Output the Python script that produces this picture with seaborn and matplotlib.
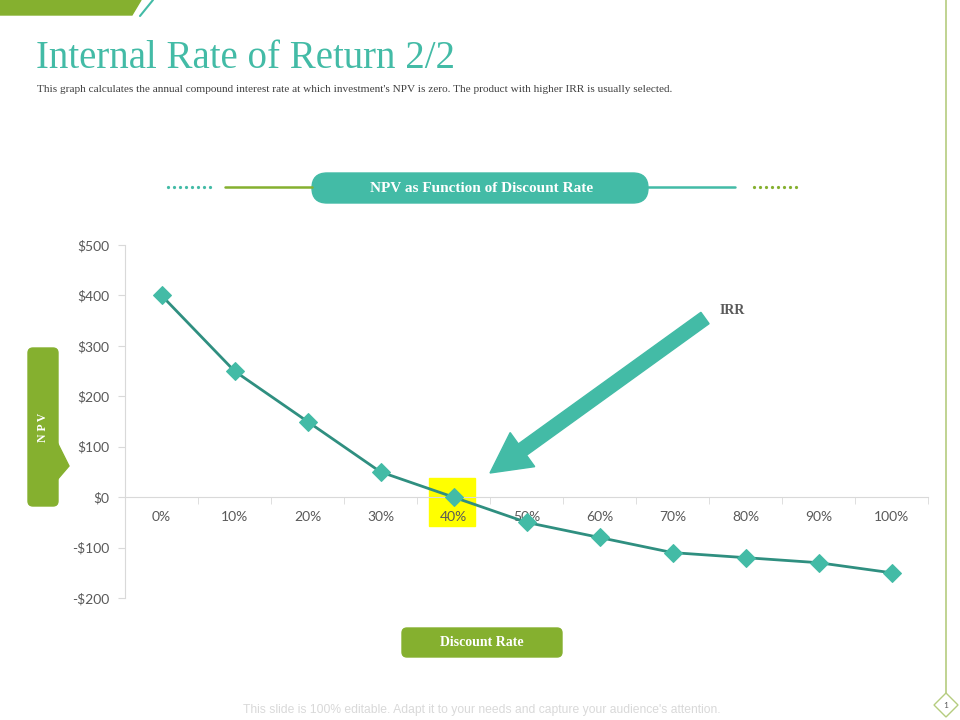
import matplotlib.pyplot as plt
import matplotlib.ticker as mticker
from matplotlib.patches import FancyBboxPatch, FancyArrow, Polygon, Rectangle
import numpy as np
import pandas as pd
import seaborn as sns

# chart data
rate_labels = ["0%", "10%", "20%", "30%", "40%", "50%", "60%", "70%", "80%", "90%", "100%"]
npv_values = [400, 250, 150, 50, 0, -50, -80, -110, -120, -130, -150]
y_ticks = [-200, -100, 0, 100, 200, 300, 400, 500]
irr_label = "40%"

TEAL = "#43bba6"
LINE_TEAL = "#2f8f80"
GREEN = "#85b02f"
GREY_TXT = "#595959"
SERIF = "Liberation Serif"

sns.set_style("white")
plt.rcParams["font.family"] = ["Lato", "DejaVu Sans"]

fig = plt.figure(figsize=(9.6, 7.2), dpi=100)

# overlay in pixel coordinates for the slide decorations
deco = fig.add_axes([0, 0, 1, 1])
deco.set_xlim(0, 960)
deco.set_ylim(720, 0)
deco.axis("off")

# chart axes
ax = fig.add_axes([125 / 960, 1 - 598 / 720, (928 - 125) / 960, (598 - 245) / 720])
ax.patch.set_alpha(0)

data = pd.DataFrame({"pos": np.arange(len(rate_labels)), "npv": npv_values})

# highlight box behind the IRR point
irr_idx = rate_labels.index(irr_label)
ax.add_patch(Rectangle((irr_idx - 0.34, -57), 0.64, 95, color="#ffff00", zorder=0))

sns.lineplot(data=data, x="pos", y="npv", ax=ax, color=LINE_TEAL, linewidth=2,
             marker="D", markersize=9, markerfacecolor=TEAL, markeredgecolor=TEAL,
             zorder=3)

ax.set_xlim(-0.5, len(rate_labels) - 0.5)
ax.set_ylim(min(y_ticks), max(y_ticks))
ax.set_xlabel("")
ax.set_ylabel("")

# axes styling
for side in ["top", "right"]:
    ax.spines[side].set_visible(False)
ax.spines["bottom"].set_position(("data", 0))
ax.spines["bottom"].set_color("#d9d9d9")
ax.spines["left"].set_color("#d9d9d9")

ax.set_yticks(y_ticks)
ax.yaxis.set_major_formatter(
    mticker.FuncFormatter(lambda v, p: f"-${abs(v):.0f}" if v < 0 else f"${v:.0f}"))
ax.tick_params(axis="y", length=5, color="#d9d9d9", labelcolor=GREY_TXT,
               labelsize=10, pad=6, left=True)

ax.xaxis.set_major_locator(mticker.FixedLocator(data["pos"]))
ax.set_xticklabels(rate_labels)
ax.xaxis.set_minor_locator(mticker.FixedLocator(np.arange(len(rate_labels) + 1) - 0.5))
ax.tick_params(axis="x", which="major", length=0, labelcolor=GREY_TXT,
               labelsize=10, pad=10)
ax.tick_params(axis="x", which="minor", length=5, color="#d9d9d9", bottom=True)
ax.grid(False)

# top-left corner band
deco.add_patch(Polygon([(0, 0), (141, 0), (132, 15), (0, 15)], color=GREEN))
deco.plot([153, 140], [0, 16], color=TEAL, linewidth=1.5)

# right border line and page number diamond
deco.plot([946, 946], [0, 693], color="#b5cc7f", linewidth=1.2)
deco.add_patch(Polygon([(946, 693), (958, 705), (946, 717), (934, 705)],
                       facecolor="white", edgecolor="#b5cc7f", linewidth=1))
deco.text(946, 705, "1", ha="center", va="center", fontsize=6, color=GREY_TXT)

# title and subtitle
deco.text(36, 59, "Internal Rate of Return 2/2", fontsize=28, color=TEAL,
          family=SERIF, va="center", ha="left")
deco.text(37, 89, "This graph calculates the annual compound interest rate at which "
          "investment's NPV is zero. The product with higher IRR is usually selected.",
          fontsize=8.1, color="#404040", family=SERIF, va="center", ha="left")

# header banner
deco.plot(np.arange(168, 213, 6), [187] * 8, linestyle="none", marker="o",
          markersize=1.3, color=TEAL)
deco.plot([225, 312], [187, 187], color=GREEN, linewidth=1.8)
deco.plot([648, 735], [187, 187], color=TEAL, linewidth=1.8)
deco.plot(np.arange(754, 800, 6), [187] * 8, linestyle="none", marker="o",
          markersize=1.3, color=GREEN)
deco.add_patch(FancyBboxPatch((312, 173), 336, 30,
                              boxstyle="round,pad=0,rounding_size=15", color=TEAL))
deco.text(482, 189, "NPV as Function of Discount Rate", fontsize=11,
          color="white", weight="bold", family=SERIF, ha="center", va="center")

# NPV side label
deco.add_patch(FancyBboxPatch((28, 348), 30, 158,
                              boxstyle="round,pad=0,rounding_size=5", color=GREEN))
deco.add_patch(Polygon([(57, 442), (69, 466), (57, 480)], color=GREEN))
deco.text(43, 427, "N P V", fontsize=8.5, color="white", weight="bold",
          family=SERIF, rotation=90, ha="center", va="center")

# Discount Rate label
deco.add_patch(FancyBboxPatch((402, 628), 160, 29,
                              boxstyle="round,pad=0,rounding_size=5", color=GREEN))
deco.text(482, 643, "Discount Rate", fontsize=10, color="white", weight="bold",
          family=SERIF, ha="center", va="center")

# IRR arrow
deco.add_patch(FancyArrow(705, 318, 490 - 705, 473 - 318, width=14,
                          head_width=42, head_length=40,
                          length_includes_head=True, color=TEAL, zorder=5))
deco.text(720, 311, "IRR", fontsize=10, color=GREY_TXT, weight="bold",
          family=SERIF, ha="left", va="center")

# footer
deco.text(482, 710, "This slide is 100% editable. Adapt it to your needs and "
          "capture your audience's attention.", fontsize=8.7, color="#d9d9d9",
          family="Liberation Sans", ha="center", va="center")

fig.savefig("out.png", dpi=100)
